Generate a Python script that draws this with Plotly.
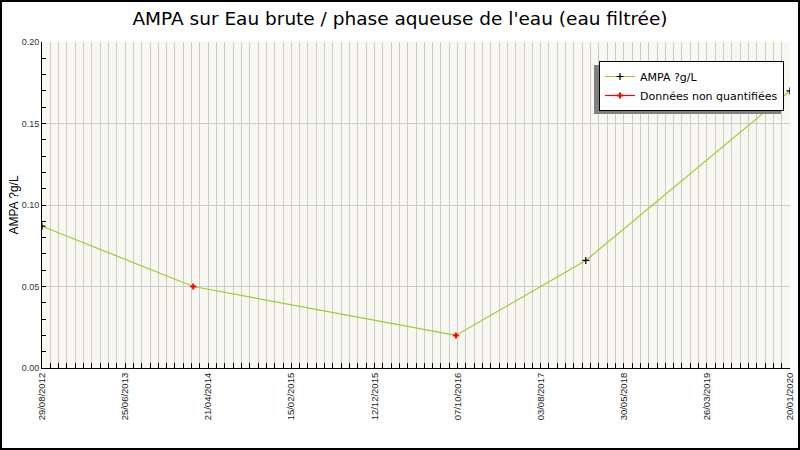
import plotly.graph_objects as go

# ---- data ----
dates = ["2012-08-29", "2014-02-26", "2016-10-01", "2018-01-13", "2020-01-20"]
values = [0.087, 0.050, 0.020, 0.066, 0.170]
quantified = [True, False, False, True, True]

title_text = "AMPA sur Eau brute / phase aqueuse de l'eau (eau filtrée)"
y_title = "AMPA ?g/L"
series_name = "AMPA ?g/L"
nq_name = "Données non quantifiées"

x_start = "2012-08-29"
x_end = "2020-01-20"

W, H = 800, 450
ML, MR, MT, MB = 42, 10, 42, 82
PW = W - ML - MR
PH = H - MT - MB
DAY = 86400000

def px_x(p):
    return (p - ML) / PW

def px_y(p):
    return (H - MB - p) / PH

q_x = [d for d, q in zip(dates, quantified) if q]
q_y = [v for v, q in zip(values, quantified) if q]
nq_x = [d for d, q in zip(dates, quantified) if not q]
nq_y = [v for v, q in zip(values, quantified) if not q]

line_color = "#9acd32"

fig = go.Figure()
fig.add_trace(go.Scatter(x=dates, y=values, mode="lines", line=dict(color=line_color, width=1.2),
                         showlegend=False, hoverinfo="skip"))
fig.add_trace(go.Scatter(x=q_x, y=q_y, mode="markers", showlegend=False,
                         marker=dict(symbol="cross-thin", size=5, color="black",
                                     line=dict(color="black", width=1.2))))
fig.add_trace(go.Scatter(x=nq_x, y=nq_y, mode="markers", showlegend=False,
                         marker=dict(symbol="cross", size=5, color="red")))
# legend entries
fig.add_trace(go.Scatter(x=[None], y=[None], mode="lines+markers", name=series_name,
                         line=dict(color=line_color, width=1.2),
                         marker=dict(symbol="cross-thin", size=5, color="black",
                                     line=dict(color="black", width=1.2))))
fig.add_trace(go.Scatter(x=[None], y=[None], mode="lines+markers", name=nq_name,
                         line=dict(color="red", width=1.2),
                         marker=dict(symbol="cross", size=5, color="red")))

fig.update_layout(
    width=W, height=H,
    margin=dict(l=ML, r=MR, t=MT, b=MB, autoexpand=False),
    paper_bgcolor="white",
    plot_bgcolor="#f8f8f0",
    title=dict(text=title_text, x=400 / W, xref="container", xanchor="center", y=1 - 19 / H, yanchor="middle",
               font=dict(family="DejaVu Sans", size=18.5, color="black")),
    showlegend=True,
    legend=dict(x=px_x(784), y=px_y(61), xanchor="right", yanchor="top",
                bgcolor="white", bordercolor="black", borderwidth=1,
                font=dict(family="DejaVu Sans", size=11, color="black"),
                tracegroupgap=0, itemwidth=30),
    xaxis=dict(
        type="date", range=[x_start, x_end], automargin=False,
        tick0=x_start, dtick=300 * DAY, tickformat="%d/%m/%Y", tickangle=-90,
        ticks="inside", ticklen=5, tickcolor="black",
        showgrid=True, gridcolor="#cccccc", gridwidth=1,
        minor=dict(tick0=x_start, dtick=30 * DAY, ticks="inside", ticklen=5, tickcolor="black",
                   showgrid=True, gridcolor="#cccccc", gridwidth=1),
        showline=True, linecolor="black", linewidth=1,
        tickfont=dict(family="Liberation Sans", size=9.5, color="#222222"),
        zeroline=False,
    ),
    yaxis=dict(
        range=[0, 0.2], dtick=0.05, tickformat=".2f", automargin=False,
        ticks="inside", ticklen=4, tickcolor="black",
        showgrid=True, gridcolor="#cccccc", gridwidth=1,
        minor=dict(dtick=0.01, ticks="inside", ticklen=4, tickcolor="black", showgrid=False),
        showline=True, linecolor="black", linewidth=1, zeroline=False,
        tickfont=dict(family="Liberation Sans", size=9, color="#333333"),
        title=dict(text=y_title, standoff=0, font=dict(family="Liberation Sans", size=12, color="black")),
    ),
    shapes=[
        dict(type="rect", xref="paper", yref="paper", layer="above",
             x0=px_x(594), x1=px_x(781), y0=px_y(114), y1=px_y(65),
             fillcolor="#808080", line=dict(width=0)),
        dict(type="rect", xref="paper", yref="paper", layer="above",
             x0=px_x(1), x1=px_x(799), y0=px_y(449), y1=px_y(1),
             fillcolor="rgba(0,0,0,0)", line=dict(color="black", width=2)),
    ],
)

fig.write_html("out.html", config={"displayModeBar": False, "responsive": False},
               post_script="document.body.style.margin='0';document.body.style.overflow='hidden';")
